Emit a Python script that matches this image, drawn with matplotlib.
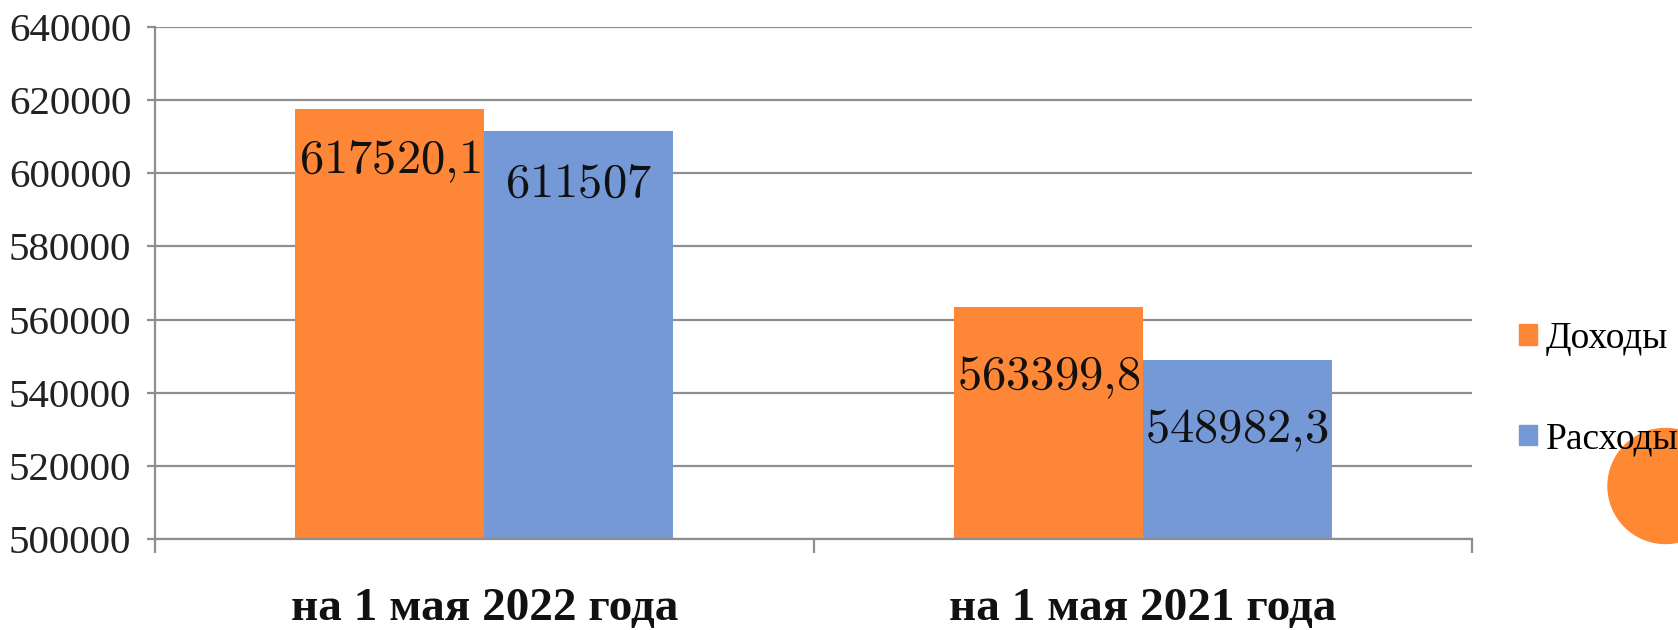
import matplotlib
matplotlib.use("Agg")
import matplotlib.pyplot as plt
from matplotlib.patches import Patch, Circle
import numpy as np

categories = ["на 1 мая 2022 года", "на 1 мая 2021 года"]
series = ["Доходы", "Расходы"]
income = [617520.1, 563399.8]
expense = [611507, 548982.3]
y_ticks = [500000, 520000, 540000, 560000, 580000, 600000, 620000, 640000]

orange = "#FD8737"
blue = "#7599D7"
grey = "#8e8e8e"

plt.rcParams["mathtext.fontset"] = "cm"

fig = plt.figure(figsize=(16.78, 6.3), dpi=100)
ax = fig.add_axes([155 / 1678, 91 / 630, 1317 / 1678, 512 / 630])

x = np.arange(len(categories))
w = 0.287
b1 = ax.bar(x - w / 2, income, w, color=orange, label=series[0], zorder=2)
b2 = ax.bar(x + w / 2, expense, w, color=blue, label=series[1], zorder=2)

# label offset below bar top (pixels), per category
offs = [52, 70]
for bars, vals in ((b1, income), (b2, expense)):
    for i, (r, v) in enumerate(zip(bars, vals)):
        txt = "$" + str(v).replace(".", "{,}") + "$"
        ax.annotate(txt, (r.get_x() + r.get_width() / 2, v),
                    xytext=(0, -offs[i]), textcoords="offset pixels",
                    ha="center", va="center", fontsize=35, color="#111111", zorder=3)

ax.set_xlim(-0.5, 1.5)
ax.set_ylim(y_ticks[0], y_ticks[-1])
ax.set_yticks(y_ticks)
ax.set_yticklabels([str(t) for t in y_ticks], family="Liberation Serif", fontsize=29.5, color="#222222")
ax.yaxis.grid(True, color=grey, lw=1.6, zorder=0)
ax.set_axisbelow(True)

ax.set_xticks([-0.5, 0.5, 1.5])
ax.set_xticklabels([])
ax.set_xticks(x, minor=True)
ax.set_xticklabels(categories, minor=True, family="Liberation Serif", fontweight="bold",
                   fontsize=34, color="#111111")
ax.tick_params(axis="x", which="major", length=10, width=1.6, color=grey, direction="out")
ax.tick_params(axis="x", which="minor", length=0, pad=35)
ax.tick_params(axis="y", length=6, width=1.6, color=grey, pad=11)

for s in ("top", "right"):
    ax.spines[s].set_visible(False)
for s in ("left", "bottom"):
    ax.spines[s].set_color(grey)
    ax.spines[s].set_linewidth(1.6)

fig.patches.append(Circle((16.655, 1.44), 0.575, color="#FF8833",
                          transform=fig.dpi_scale_trans, zorder=1))

handles = [Patch(color=orange), Patch(color=blue)]
fig.legend(handles, series, loc="center left", bbox_to_anchor=(1519 / 1678, 1 - 389 / 630),
           frameon=False, prop={"family": "Liberation Serif", "size": 27},
           handlelength=0.48, handleheight=0.48, handletextpad=0.24, labelspacing=1.75,
           borderaxespad=0, borderpad=0)

fig.savefig("out.png", dpi=100)
